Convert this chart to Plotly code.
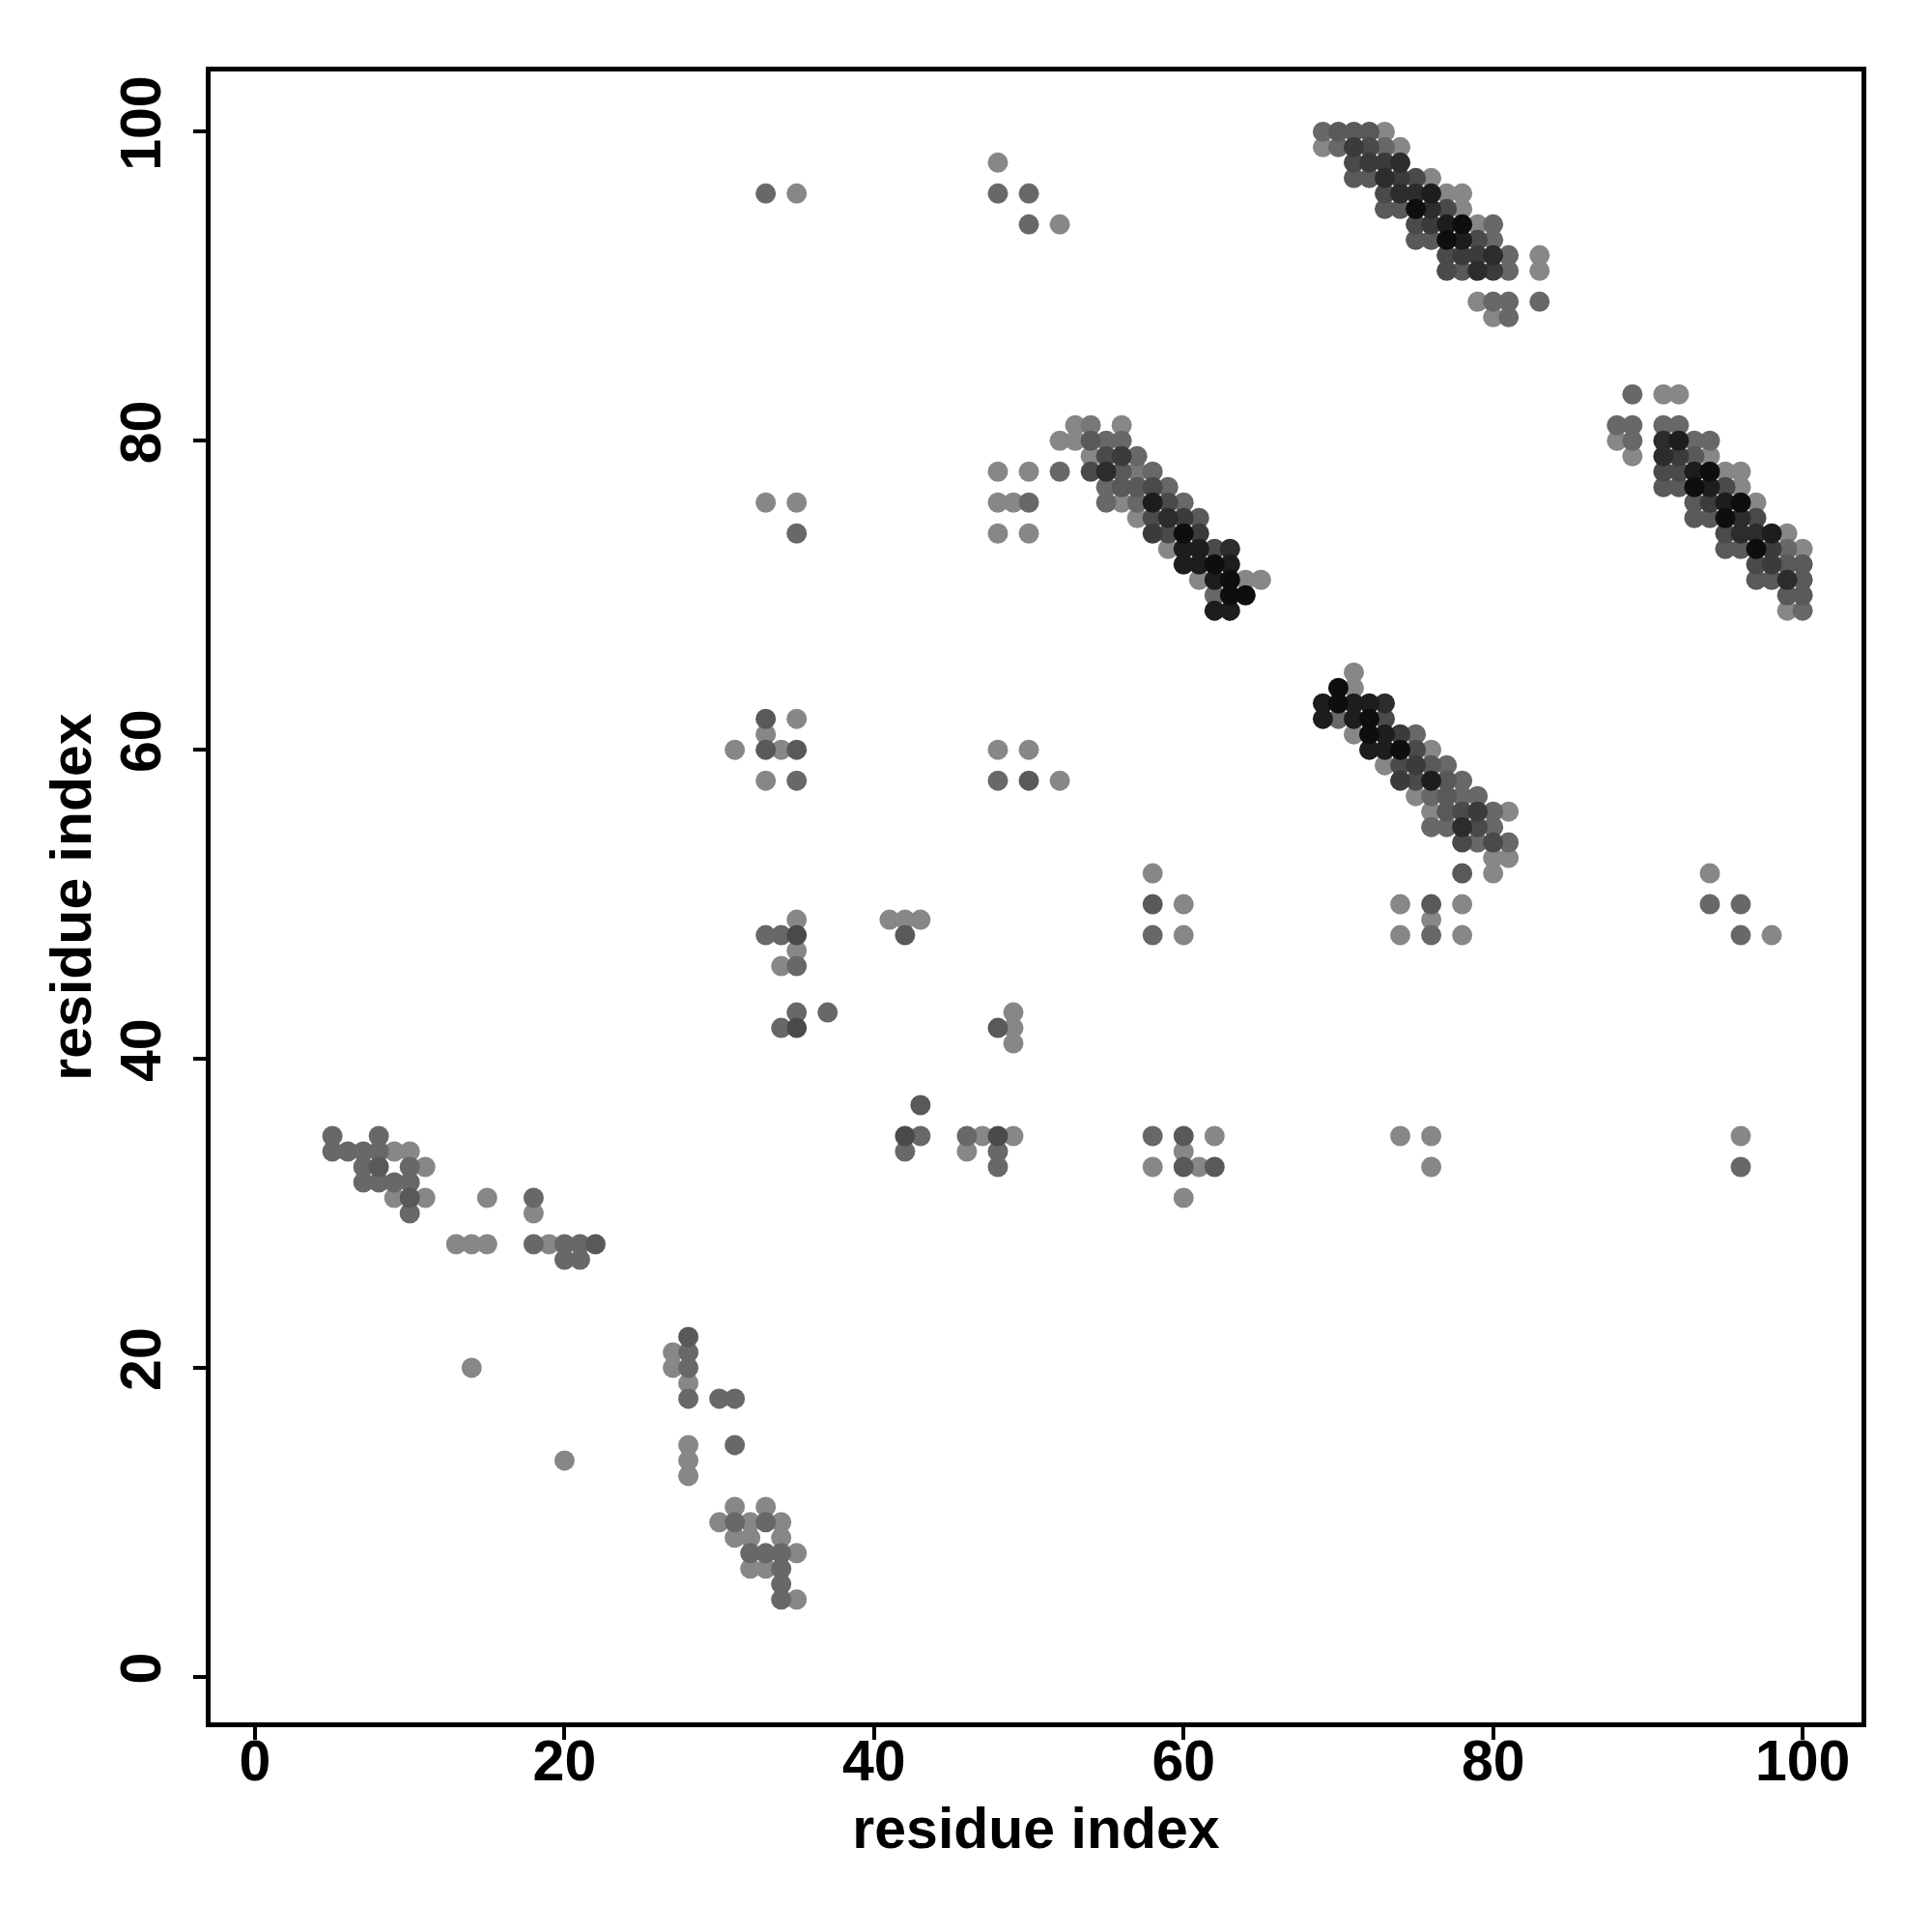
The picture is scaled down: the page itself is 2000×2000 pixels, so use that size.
import plotly.graph_objects as go

# Each entry: (residue i, residue j, contact strength level 1..5)
band_top = [
    (69,100,2),(70,100,2.5),(71,100,2.5),(72,100,2.5),(73,100,1),
    (69,99,1),(70,99,2),(71,99,3.5),(72,99,3),(73,99,2),(74,99,1),
    (71,98,3),(72,98,3.5),(73,98,3.5),(74,98,4),
    (71,97,2.5),(72,97,2.5),(73,97,4),(74,97,3.5),(75,97,3),(76,97,1),
    (73,96,3),(74,96,4),(75,96,4),(76,96,4.5),(77,96,1),(78,96,1),
    (73,95,2.5),(74,95,2.5),(75,95,5),(76,95,4),(77,95,3),(78,95,1),
    (75,94,3),(76,94,3.5),(77,94,4.5),(78,94,5),(79,94,1),(80,94,2),
    (75,93,2.5),(76,93,2.5),(77,93,5),(78,93,4.5),(79,93,3),(80,93,2),
    (77,92,3),(78,92,3.5),(79,92,3.5),(80,92,4),(81,92,2),(83,92,1),
    (77,91,3),(78,91,2.5),(79,91,4),(80,91,3.5),(81,91,2),(83,91,1),
    (79,89,1),(80,89,2),(81,89,2),(83,89,2),
    (80,88,1),(81,88,2),
]

band_mid = [
    (53,81,1),(54,81,1.5),(56,81,1),
    (52,80,1),(53,80,1),(54,80,2.5),(55,80,2),(56,80,2),
    (54,79,1),(55,79,3),(56,79,3.5),(57,79,2),
    (52,78,2),(54,78,3),(55,78,4),(56,78,2.5),(57,78,1.5),(58,78,2),
    (55,77,2),(56,77,2.5),(57,77,2.5),(58,77,3),(59,77,2),
    (55,76,2),(56,76,1),(57,76,2),(58,76,4.5),(59,76,3),(60,76,2),
    (57,75,1),(58,75,3),(59,75,4),(60,75,3.5),(61,75,2.5),
    (58,74,3.5),(59,74,3),(60,74,5),(61,74,3.5),
    (59,73,1),(60,73,4.5),(61,73,4.5),(62,73,3),(63,73,4),
    (60,72,4.5),(61,72,4.5),(62,72,5),(63,72,4.5),
    (61,71,1),(62,71,4.5),(63,71,5),(64,71,1),(65,71,1),
    (62,70,2),(63,70,5),(64,70,5),
    (62,69,4.5),(63,69,4.5),
]

band_right = [
    (89,83,2),(91,83,1),(92,83,1),
    (88,81,2),(89,81,2),(91,81,2),(92,81,2),
    (88,80,1),(89,80,2),(91,80,4),(92,80,4.5),(93,80,2),(94,80,2),
    (89,79,1),(91,79,4),(92,79,3.5),(93,79,2.5),(94,79,1),
    (91,78,3),(92,78,3),(93,78,4.5),(94,78,5),(95,78,1),(96,78,1),
    (91,77,2.5),(92,77,2.5),(93,77,5),(94,77,4.5),(95,77,3),(96,77,1),
    (93,76,2.5),(94,76,3.5),(95,76,4.5),(96,76,5),(97,76,1),
    (93,75,2.5),(94,75,2.5),(95,75,5),(96,75,4),(97,75,3),
    (95,74,3),(96,74,4),(97,74,4),(98,74,4.5),(99,74,1),
    (95,73,2.5),(96,73,2.5),(97,73,5),(98,73,3.5),(99,73,2),(100,73,1),
    (97,72,3),(98,72,3.5),(99,72,2.5),(100,72,2.5),
    (97,71,2.5),(98,71,2.5),(99,71,4),(100,71,2.5),
    (99,70,2.5),(100,70,2.5),
    (99,69,1),(100,69,2),
]

band_low = [
    (71,65,1),
    (70,64,5),(71,64,1),
    (69,63,4.5),(70,63,5),(71,63,4.5),(72,63,4.5),(73,63,4),
    (69,62,4.5),(70,62,2),(71,62,4.5),(72,62,5),(73,62,3),
    (71,61,1),(72,61,5),(73,61,4.5),(74,61,3.5),(75,61,2),
    (72,60,4.5),(73,60,4.5),(74,60,5),(75,60,3),(76,60,1),
    (73,59,1),(74,59,3),(75,59,3.5),(76,59,2.5),(77,59,2),
    (74,58,3.5),(75,58,3),(76,58,4.5),(77,58,2.5),(78,58,2),
    (75,57,1),(76,57,2),(77,57,2.5),(78,57,2),(79,57,2),
    (76,56,1),(77,56,2.5),(78,56,3),(79,56,3.5),(80,56,2),(81,56,1),
    (76,55,2),(77,55,2),(78,55,4),(79,55,3),(80,55,2),
    (78,54,3),(79,54,2),(80,54,3),(81,54,2),
    (80,53,1),(81,53,1),
    (78,52,2.5),(80,52,1),
]

cluster_lowleft = [
    (5,35,2),(8,35,2),
    (5,34,2),(6,34,2),(7,34,2),(8,34,2),(9,34,1),(10,34,1),
    (7,33,2),(8,33,2.5),(10,33,2),(11,33,1),
    (7,32,2),(8,32,2),(9,32,2),(10,32,2),
    (9,31,1),(10,31,2.5),(11,31,1),(15,31,1),(18,31,2),
    (10,30,2),(18,30,1),
    (13,28,1),(14,28,1),(15,28,1),(18,28,2),(19,28,1),(20,28,2),(21,28,2),(22,28,2.5),
    (20,27,2),(21,27,2),
    (14,20,1),(20,14,1),
]

cluster_bottom = [
    (28,22,2.5),(27,21,1),(28,21,2),(27,20,1),(28,20,2),(28,19,1),
    (28,18,2),(30,18,2),(31,18,2),(28,15,1),(31,15,2),(28,14,1),(28,13,1),
    (31,11,1),(33,11,1),(30,10,1),(31,10,2),(32,10,1),(33,10,2),(34,10,1),
    (31,9,1),(32,9,1),(34,9,1),(32,8,2),(33,8,2),(34,8,2),(35,8,1),
    (32,7,1),(33,7,1),(34,7,2),(34,6,2),(34,5,2),(35,5,1),
]

scattered = [
    (33,96,2),(35,96,1),(48,98,1),(48,96,2),(50,96,2),(50,94,2),(52,94,1),
    (33,76,1),(35,76,1),(35,74,2),(48,78,1),(50,78,1),(48,76,1),(49,76,1),(50,76,2),(48,74,1),(50,74,1),
    (33,62,2.5),(35,62,1),(33,61,1),(31,60,1),(33,60,2.5),(34,60,1),(35,60,2.5),(33,58,1),(35,58,2),
    (48,60,1),(50,60,1),(48,58,2),(50,58,2.5),(52,58,1),
    (35,49,1),(41,49,1),(42,49,1),(43,49,1),(33,48,2),(34,48,2),(35,48,3),(42,48,2.5),(35,47,1),
    (34,46,1),(35,46,2),(35,43,2),(37,43,2),(49,43,1),(34,42,2),(35,42,3),(48,42,2.5),(49,42,1),(49,41,1),
    (43,37,2.5),(42,35,3),(43,35,2),(46,35,2),(47,35,1),(48,35,3),(49,35,1),(42,34,2),(46,34,1),(48,34,2),(48,33,2),
    (58,35,2),(60,35,2.5),(62,35,1),(60,34,1),(58,33,1),(60,33,2.5),(61,33,1),(62,33,2.5),(60,31,1),
    (74,35,1),(76,35,1),(76,33,1),(96,35,1),(96,33,2),
    (58,52,1),(58,50,2.5),(60,50,1),(58,48,2),(60,48,1),
    (74,50,1),(76,50,2.5),(78,50,1),(76,49,1),(74,48,1),(76,48,2),(78,48,1),
    (94,52,1),(94,50,2),(96,50,2),(96,48,2),(98,48,1),
]

x_ticks = [0, 20, 40, 60, 80, 100]
y_ticks = [0, 20, 40, 60, 80, 100]
axis_title = "residue index"

points = band_top + band_mid + band_right + band_low + cluster_lowleft + cluster_bottom + scattered
points = sorted(points, key=lambda p: p[2])
xs = [p[0] for p in points]
ys = [p[1] for p in points]
lv = [p[2] for p in points]

fig = go.Figure(go.Scatter(
    x=xs, y=ys, mode="markers",
    marker=dict(size=21, color=lv, cmin=1, cmax=5,
                colorscale=[[0, "#878787"], [0.25, "#686868"], [0.5, "#4a4a4a"],
                            [0.75, "#2c2c2c"], [1, "#0e0e0e"]],
                showscale=False, line=dict(width=0)),
    hoverinfo="x+y",
))

font_b = dict(family="Liberation Sans, Arial, sans-serif", size=59, color="black", weight="bold")
axis_common = dict(
    showgrid=False, zeroline=False, showline=True, mirror=True,
    linecolor="black", linewidth=5, ticks="outside", ticklen=13, tickwidth=4,
    tickcolor="black", tickfont=font_b, automargin=False,
)
fig.update_layout(
    width=2000, height=2000,
    margin=dict(l=210, r=81, t=66, b=225),
    paper_bgcolor="white", plot_bgcolor="white",
    showlegend=False,
    xaxis=dict(range=[-2.87, 103.8], tickvals=x_ticks, ticktext=[str(v) for v in x_ticks],
               title=dict(text=axis_title, font=font_b, standoff=18), ticklabelstandoff=-29,
               **axis_common),
    yaxis=dict(range=[-2.95, 103.9], tickvals=y_ticks, ticktext=[str(v) for v in y_ticks],
               tickangle=-90, title=dict(text=axis_title, font=font_b, standoff=1),
               ticklabelstandoff=10, **axis_common),
)
fig.write_html("out.html")
